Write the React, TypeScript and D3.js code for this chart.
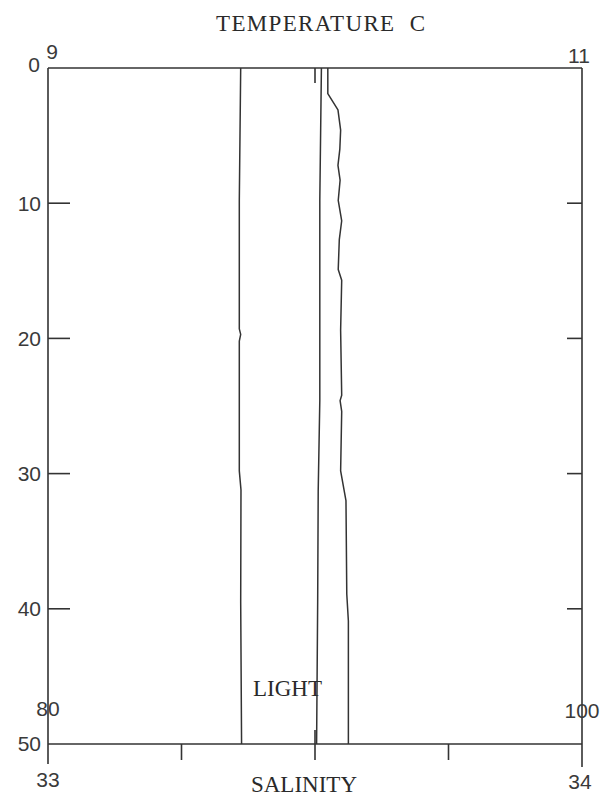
import React from "react";
import * as d3 from "d3";

// Depth axis ticks (m)
const depthTicks = [0, 10, 20, 30, 40, 50];

// Temperature profile (deg C)
const tempDepth = [0, 1.9, 3.1, 4.6, 6, 7.2, 8.3, 9.8, 11.3, 12.7, 14.9, 15.7, 19.4, 24.2, 24.6, 25.4, 29.8, 32.0, 38.9, 40.9, 50];
const tempValues = [10.048, 10.048, 10.086, 10.096, 10.093, 10.086, 10.094, 10.087, 10.1, 10.091, 10.087, 10.1, 10.096, 10.1, 10.094, 10.1, 10.096, 10.116, 10.119, 10.125, 10.125];

// Salinity profile
const salDepth = [0, 9.8, 24.6, 31.3, 39.5, 50];
const salValues = [33.512, 33.509, 33.509, 33.506, 33.505, 33.503];

// Light profile (%)
const lightDepth = [0, 9.8, 19.3, 19.7, 20.2, 29.8, 31.2, 39.5, 50];
const lightValues = [87.217, 87.165, 87.165, 87.217, 87.165, 87.165, 87.228, 87.217, 87.25];

// Axis domains / tick labels
const tempDomain = [9, 11];
const tempTickLabels = ["9", "11"];
const salDomain = [33, 34];
const salTicks = [33.25, 33.5, 33.75];
const salTickLabels = ["33", "34"];
const lightDomain = [80, 100];
const lightTickLabels = ["80", "100"];

const L = 48, R = 582, T = 68, B = 744;
const ink = "#333";
const sans = "'Liberation Sans', Arial, sans-serif";
const serif = "'Liberation Serif', 'Times New Roman', serif";

export default function App() {
  const y = d3.scaleLinear().domain([0, 50]).range([T, B]);
  const xT = d3.scaleLinear().domain(tempDomain).range([L, R]);
  const xS = d3.scaleLinear().domain(salDomain).range([L, R]);
  const xL = d3.scaleLinear().domain(lightDomain).range([L, R]);

  const mk = (xs: any, ds: number[], vs: number[]) =>
    d3.line<number>().x((_, i) => xs(vs[i])).y((d) => y(d))(ds) || "";

  const numStyle = { fontFamily: sans, fontSize: 21, fill: "#3a3a3a" } as any;
  const lblStyle = { fontFamily: serif, fontSize: 23, fill: "#2a2a2a" } as any;

  return (
    <svg width={605} height={796} style={{ position: "absolute", left: 0, top: 0, background: "#fff" }}>
      <rect x={0} y={0} width={605} height={796} fill="#fff" />
      {/* frame */}
      <g stroke={ink} strokeWidth={1.6} fill="none">
        <line x1={L} x2={R} y1={T} y2={T} />
        <line x1={L} x2={R} y1={B} y2={B} />
        <line x1={L} x2={L} y1={T} y2={B + 20} />
        <line x1={R} x2={R} y1={T} y2={B + 23} />
        {/* top tick at temp 10 */}
        <line x1={xT(10)} x2={xT(10)} y1={T} y2={T + 15} />
        {/* bottom salinity ticks */}
        {salTicks.map((s) => (
          <line key={s} x1={xS(s)} x2={xS(s)} y1={s === 33.5 ? B - 14 : B} y2={B + 16} />
        ))}
        {/* depth ticks */}
        {depthTicks.slice(1, -1).map((d) => (
          <g key={d}>
            <line x1={L} x2={L + 22} y1={y(d)} y2={y(d)} />
            <line x1={R - 15} x2={R} y1={y(d)} y2={y(d)} />
          </g>
        ))}
      </g>

      {/* profiles */}
      <g stroke={ink} strokeWidth={1.5} fill="none" strokeLinejoin="round">
        <path d={mk(xL, lightDepth, lightValues)} />
        <path d={mk(xS, salDepth, salValues)} />
        <path d={mk(xT, tempDepth, tempValues)} />
      </g>

      {/* depth labels */}
      {depthTicks.map((d) => (
        <text key={d} x={d === 0 ? 40 : 41} y={d === 0 ? y(d) - 3 : y(d)} dy="0.35em" textAnchor="end" style={numStyle}>
          {d}
        </text>
      ))}
      {/* temperature labels */}
      <text x={xT(9) + 4} y={59} textAnchor="middle" style={numStyle}>{tempTickLabels[0]}</text>
      <text x={xT(11) - 3} y={63} textAnchor="middle" style={numStyle}>{tempTickLabels[1]}</text>
      {/* salinity labels */}
      <text x={xS(33)} y={787} textAnchor="middle" style={numStyle}>{salTickLabels[0]}</text>
      <text x={xS(34) - 2} y={789} textAnchor="middle" style={numStyle}>{salTickLabels[1]}</text>
      {/* light labels */}
      <text x={xL(80)} y={716} textAnchor="middle" style={numStyle}>{lightTickLabels[0]}</text>
      <text x={xL(100)} y={718} textAnchor="middle" style={numStyle}>{lightTickLabels[1]}</text>

      {/* axis titles */}
      <text x={216} y={31} textLength={209} lengthAdjust="spacing" style={lblStyle} xmlSpace="preserve">TEMPERATURE  C</text>
      <text x={304} y={792} textAnchor="middle" style={lblStyle}>SALINITY</text>
      <text x={253} y={696} style={lblStyle}>LIGHT</text>
    </svg>
  );
}
